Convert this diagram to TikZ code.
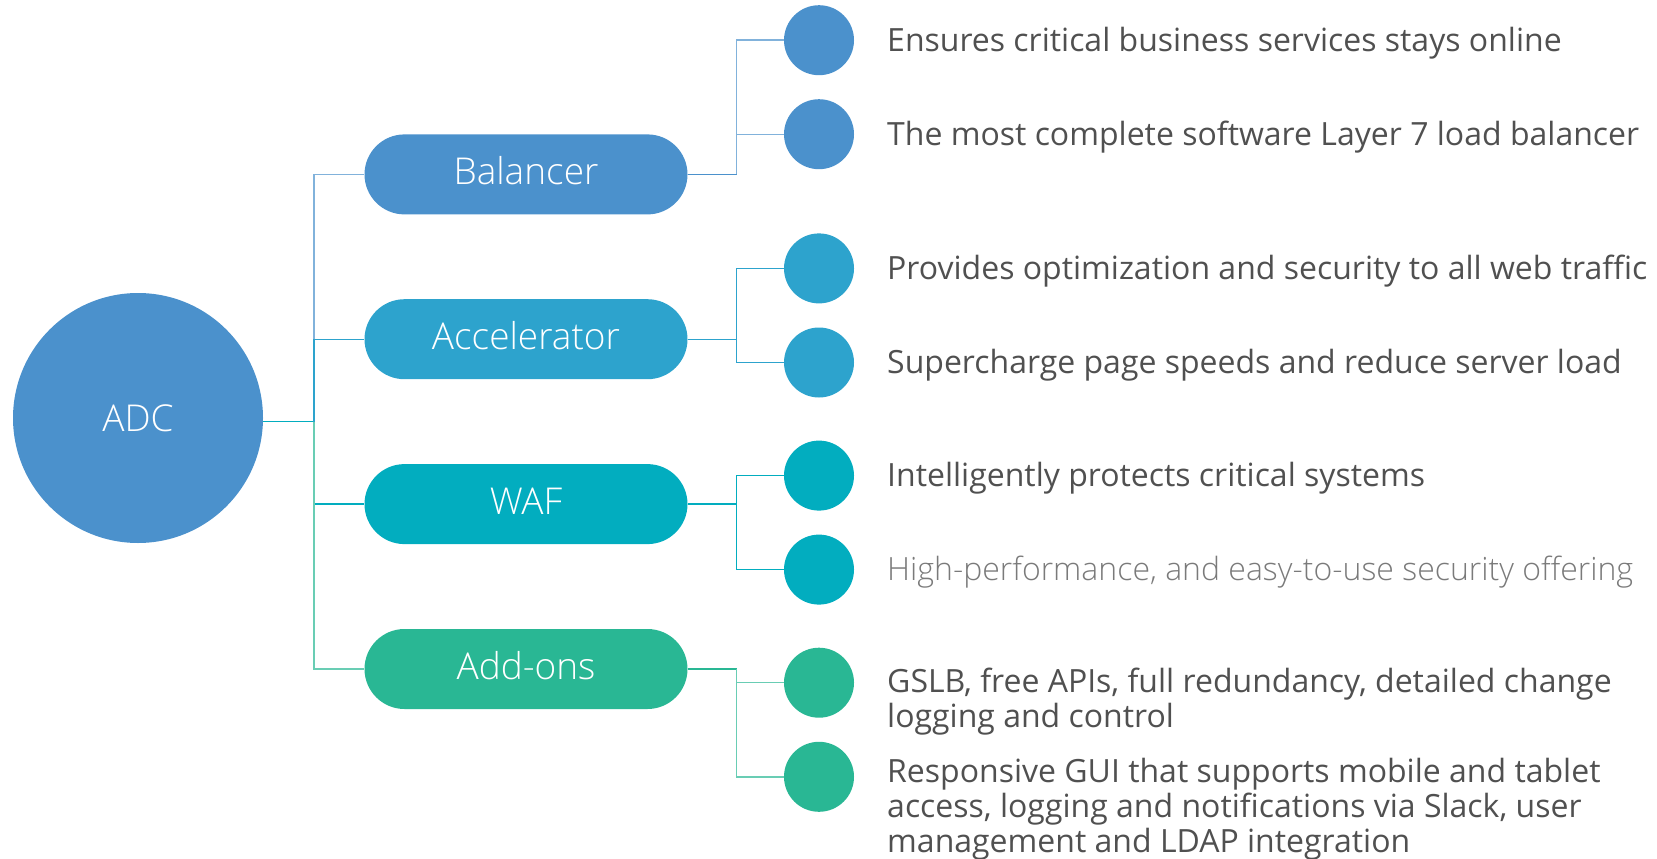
\documentclass[tikz,border=0pt]{standalone}
\usepackage{fontspec}
\setmainfont{Open Sans}
\newfontfamily\lightfont{Open Sans Light}
\definecolor{cbal}{HTML}{4B91CC}
\definecolor{cacc}{HTML}{2DA3CD}
\definecolor{cwaf}{HTML}{02ADBF}
\definecolor{cadd}{HTML}{29B794}
\definecolor{ctext}{HTML}{505050}
\definecolor{clight}{HTML}{7A7A7A}
\begin{document}
\begin{tikzpicture}[x=1pt,y=-1pt,
  pill/.style={draw=none,fill=#1,rounded corners=40pt,minimum width=323pt,minimum height=80pt,text=white,font=\lightfont\fontsize{37}{42}\selectfont,inner sep=0pt,text height=27pt,text depth=6pt},
  dot/.style={circle,fill=#1,minimum size=70pt,inner sep=0pt},
  desc/.style={anchor=base west,align=left,inner sep=0pt,text=ctext,font=\fontsize{32}{35}\selectfont},
  link/.style={draw=#1,line width=1.4pt}]
\useasboundingbox (0,0) rectangle (1657,859);
% root
\node[circle,fill=cbal,minimum size=250pt,inner sep=0pt,text=white,font=\lightfont\fontsize{37}{42}\selectfont] (adc) at (138,418) {ADC};
% pills
\node[pill=cbal] (bal) at (526,174.4) {Balancer};
\node[pill=cacc] (acc) at (526,339.2) {Accelerator};
\node[pill=cwaf] (waf) at (526,504.1) {WAF};
\node[pill=cadd] (add) at (526,669) {Add-ons};
% dots
\node[dot=cbal] (b1) at (819,40.2) {};
\node[dot=cbal] (b2) at (819,134.2) {};
\node[dot=cacc] (a1) at (819,268.4) {};
\node[dot=cacc] (a2) at (819,362.5) {};
\node[dot=cwaf] (w1) at (819,475.6) {};
\node[dot=cwaf] (w2) at (819,569.6) {};
\node[dot=cadd] (d1) at (819,682.7) {};
\node[dot=cadd] (d2) at (819,776.8) {};
% junctions
\coordinate (j) at (314,421.7);
\coordinate (bj) at (736.6,174.4);
\coordinate (aj) at (736.6,339.2);
\coordinate (wj) at (736.6,504.1);
\coordinate (dj) at (736.6,669);
% connectors
\draw[link=cwaf] (adc.east |- j) -- (j);
\draw[link=cbal!70] (j) |- (bal.west);
\draw[link=cacc] (j) |- (acc.west);
\draw[link=cwaf] (j) |- (waf.west);
\draw[link=cadd!70] (j) |- (add.west);
\draw[link=cbal] (bal.east) -- (bj);
\draw[link=cbal!70] (bj) |- (b1.west);
\draw[link=cbal!70] (bj) |- (b2.west);
\draw[link=cacc] (acc.east) -- (aj);
\draw[link=cacc] (aj) |- (a1.west);
\draw[link=cacc] (aj) |- (a2.west);
\draw[link=cwaf] (waf.east) -- (wj);
\draw[link=cwaf] (wj) |- (w1.west);
\draw[link=cwaf] (wj) |- (w2.west);
\draw[link=cadd] (add.east) -- (dj);
\draw[link=cadd!70] (dj) |- (d1.west);
\draw[link=cadd!70] (dj) |- (d2.west);
% texts
\node[desc] (t1) at (887,51.2) {Ensures critical business services stays online};
\node[desc] (t2) at (887,145.2) {The most complete software Layer 7 load balancer};
\node[desc] (t3) at (887,279.4) {Provides optimization and security to all web traffic};
\node[desc] (t4) at (887,373.5) {Supercharge page speeds and reduce server load};
\node[desc] (t5) at (887,486.6) {Intelligently protects critical systems};
\node[desc,text=clight,font=\lightfont\fontsize{32}{35}\selectfont] (t6) at (887,580.6) {High-performance, and easy-to-use security offering};
\node[desc] (t7) at (887,727.5) {GSLB, free APIs, full redundancy, detailed change\\logging and control};
\node[desc] (t8) at (887,852) {Responsive GUI that supports mobile and tablet\\access, logging and notifications via Slack, user\\management and LDAP integration};
\end{tikzpicture}
\end{document}
